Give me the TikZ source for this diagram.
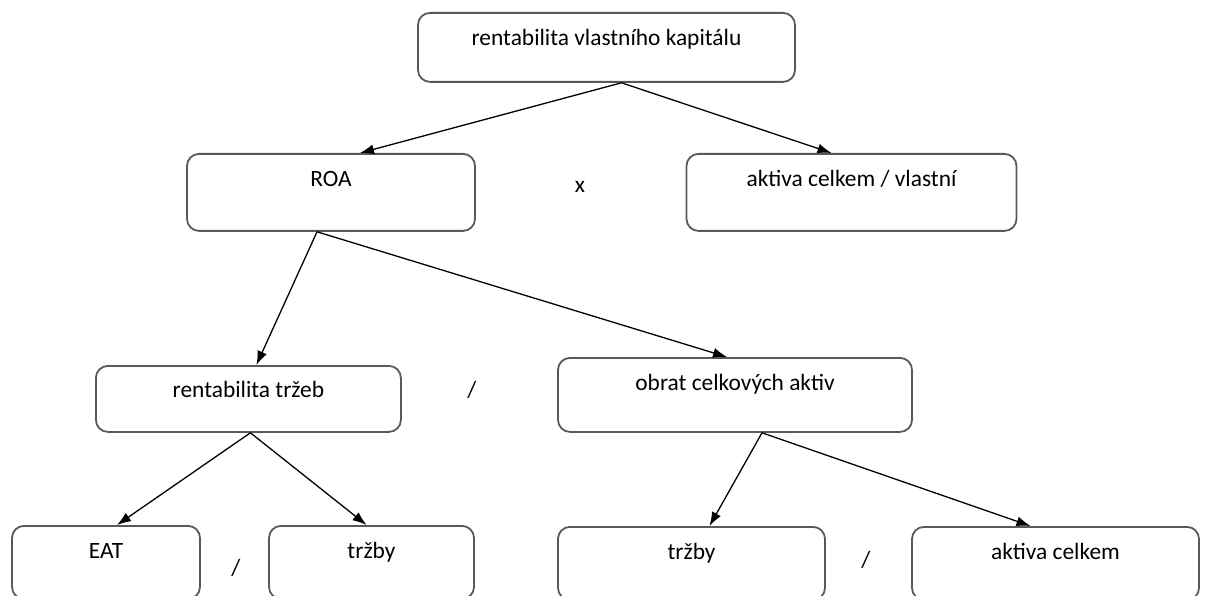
\documentclass[tikz,border=0pt]{standalone}
\usepackage{fontspec}
\setmainfont{Carlito}
\usetikzlibrary{arrows.meta}

\begin{document}
\begin{tikzpicture}[x=1pt, y=-1pt,
  box/.style={draw=black!65, line width=1.8pt, rounded corners=12pt, anchor=north,
    inner xsep=0pt, inner ysep=0pt, text height=33pt,
    font=\fontsize{23.4}{28}\selectfont},
  op/.style={font=\fontsize{23.4}{28}\selectfont},
  link/.style={-{Latex[length=14pt, width=10pt]}, line width=1.3pt}]
  \useasboundingbox (0,0) rectangle (1205,596);
  \clip (0,0) rectangle (1205,596);
  % --- Level 0: return on equity ---
  \node[box, minimum width=377pt, text depth=36pt] (roe) at (606.5,12) {rentabilita vlastního kapitálu};
  % --- Level 1 ---
  \node[box, minimum width=288pt, text depth=44pt] (roa) at (331,153) {ROA};
  \node[op, anchor=base] (times) at (580,193) {x};
  \node[box, minimum width=330pt, text depth=44pt] (leverage) at (851.5,153) {aktiva celkem / vlastní};
  % --- Level 2 ---
  \node[box, minimum width=305pt, text depth=34pt, text height=32pt] (margin) at (248.4,365) {rentabilita tržeb};
  \node[op] (div1) at (472,390) {/};
  \node[box, minimum width=354pt, text depth=41pt] (turnover) at (735,357) {obrat celkových aktiv};
  % --- Level 3 ---
  \node[box, minimum width=188pt, text depth=40pt] (eat) at (106,525) {EAT};
  \node[op] (div2) at (236,568) {/};
  \node[box, minimum width=205pt, text depth=40pt] (sales) at (371.5,525) {tržby};
  \node[box, minimum width=267pt, text depth=40pt] (salesb) at (691.5,526) {tržby};
  \node[op] (div3) at (866,560) {/};
  \node[box, minimum width=287pt, text depth=40pt] (assets) at (1055.5,526) {aktiva celkem};
  % --- connectors ---
  \draw[link] ([xshift=15]roe.south) -- ([xshift=29]roa.north);
  \draw[link] ([xshift=15]roe.south) -- ([xshift=-20]leverage.north);
  \draw[link] ([xshift=-14]roa.south) -- ([xshift=8]margin.north);
  \draw[link] ([xshift=-14]roa.south) -- ([xshift=-8]turnover.north);
  \draw[link] ([xshift=2]margin.south) -- ([xshift=11]eat.north);
  \draw[link] ([xshift=2]margin.south) -- ([xshift=-5]sales.north);
  \draw[link] ([xshift=27]turnover.south) -- ([xshift=18]salesb.north);
  \draw[link] ([xshift=27]turnover.south) -- ([xshift=-25]assets.north);
\end{tikzpicture}
\end{document}
